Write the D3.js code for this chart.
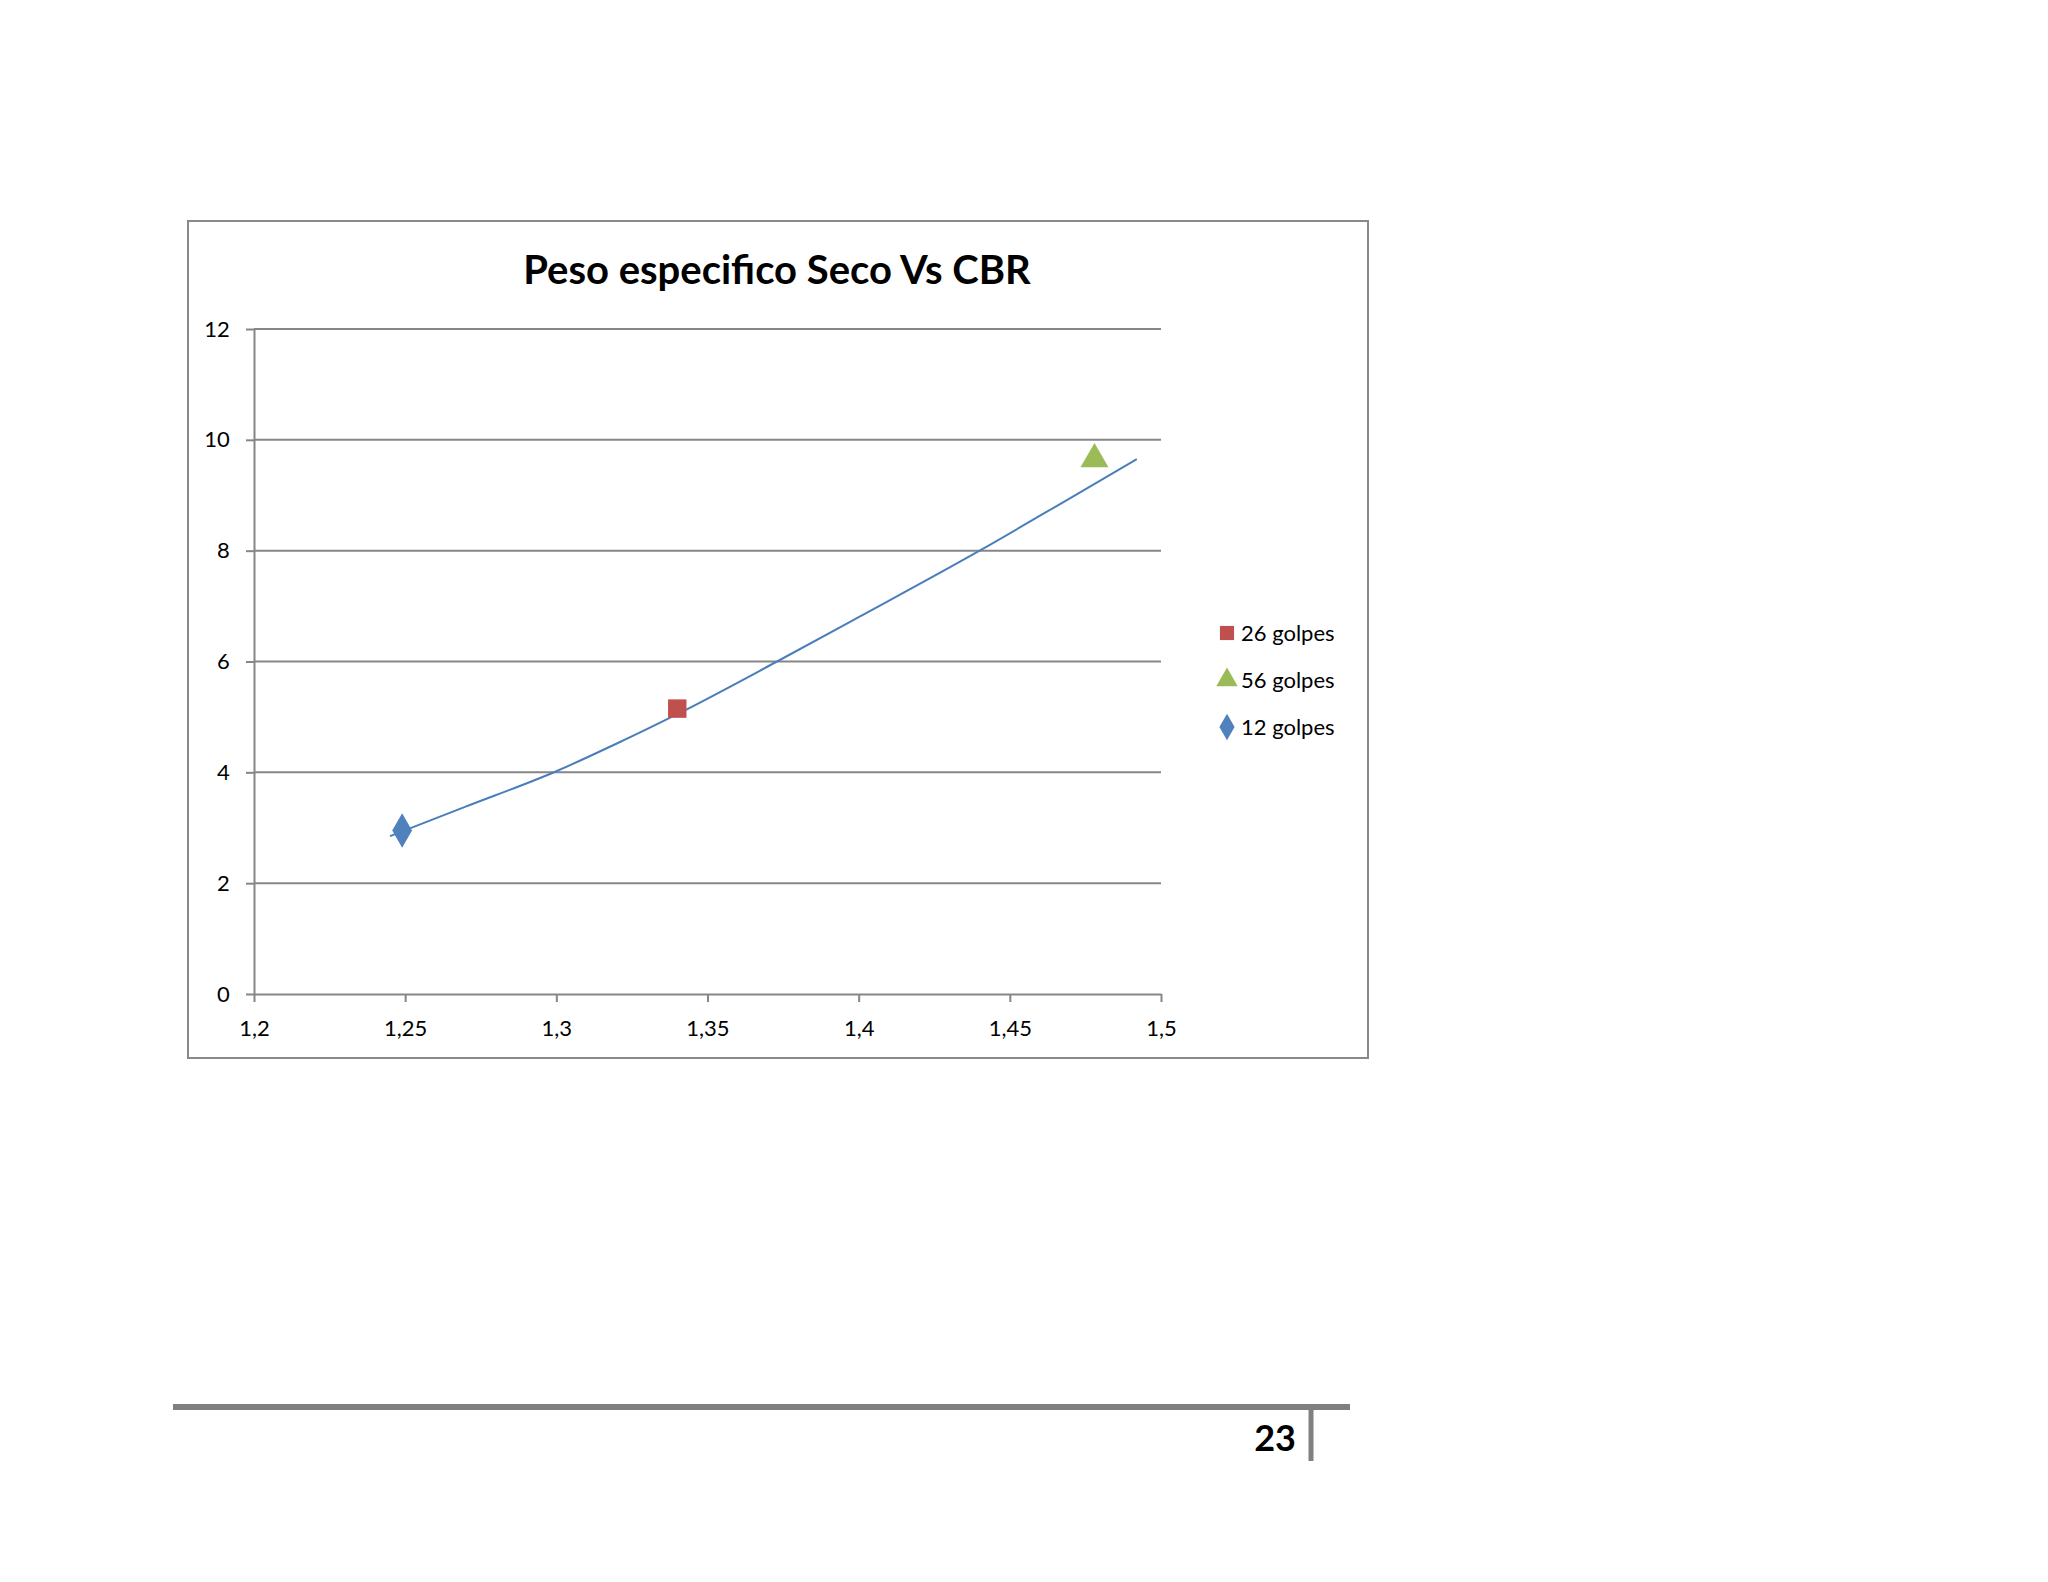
<!DOCTYPE html>
<html><head><meta charset="utf-8">
<script src="https://cdn.jsdelivr.net/npm/d3@7"></script>
<style>body{margin:0;background:#fff;} text{font-family:Lato,"Open Sans",sans-serif;}</style>
</head><body>
<svg id="chart" width="2048" height="1582"></svg>
<script>
// data
const seriesNames = ["26 golpes", "56 golpes", "12 golpes"];
const seriesColors = ["#c0504d", "#9bbb59", "#4f81bd"];
const seriesSymbols = [d3.symbolSquare, d3.symbolTriangle, d3.symbolDiamond];
const pointX = [1.34, 1.478, 1.249];
const pointY = [5.15, 9.65, 2.95];
const trendX = [1.245, 1.27, 1.3, 1.32, 1.34, 1.373, 1.4, 1.44, 1.47, 1.492];
const trendY = [2.85, 3.38, 4.02, 4.52, 5.05, 6.0, 6.8, 8.0, 8.95, 9.65];
const xTicks = [1.2, 1.25, 1.3, 1.35, 1.4, 1.45, 1.5];
const yTicks = [0, 2, 4, 6, 8, 10, 12];

const svg = d3.select("#chart");
const plotLeft = 254, plotRight = 1161, plotTop = 329, plotBottom = 994;
const x = d3.scaleLinear().domain([1.2, 1.5]).range([plotLeft, plotRight]);
const y = d3.scaleLinear().domain([0, 12]).range([plotBottom, plotTop]);
const fmt = d => String(d).replace(".", ",");

// chart frame
svg.append("rect").attr("x", 188).attr("y", 221).attr("width", 1180).attr("height", 837)
  .attr("fill", "#fff").attr("stroke", "#898989").attr("stroke-width", 2);

svg.append("text").attr("x", 777).attr("y", 284).attr("text-anchor", "middle")
  .attr("font-size", 40).attr("font-weight", "bold").text("Peso especifico Seco Vs CBR");

// gridlines
svg.append("g").selectAll("line").data(yTicks.filter(d => d > 0)).join("line")
  .attr("x1", plotLeft).attr("x2", plotRight).attr("y1", d => y(d)).attr("y2", d => y(d))
  .attr("stroke", "#868686").attr("stroke-width", 2);

const xAxis = svg.append("g").attr("transform", `translate(0,${plotBottom})`)
  .call(d3.axisBottom(x).tickValues(xTicks).tickFormat(fmt).tickSize(8).tickSizeOuter(0));
const yAxis = svg.append("g").attr("transform", `translate(${plotLeft},0)`)
  .call(d3.axisLeft(y).tickValues(yTicks).tickSize(8).tickSizeOuter(0));
[xAxis, yAxis].forEach(a => {
  a.selectAll("path,line").attr("stroke", "#868686").attr("stroke-width", 2);
  a.selectAll("text").attr("font-size", 22).attr("fill", "#000")
   .style("font-family", "Lato, sans-serif");
});
xAxis.selectAll("text").attr("dy", "1.4em");
yAxis.selectAll("text").attr("dx", "-0.6em");

// trend line
const line = d3.line().x(d => x(d[0])).y(d => y(d[1])).curve(d3.curveMonotoneX);
svg.append("path").datum(trendX.map((v, i) => [v, trendY[i]])).attr("d", line)
  .attr("fill", "none").attr("stroke", "#4a7ebb").attr("stroke-width", 2);

// points
svg.append("g").selectAll("path").data(seriesNames).join("path")
  .attr("transform", (d, i) => `translate(${x(pointX[i])},${y(pointY[i])})`)
  .attr("d", (d, i) => d3.symbol(seriesSymbols[i], 340)())
  .attr("fill", (d, i) => seriesColors[i]);

// legend
const lg = svg.append("g").selectAll("g").data(seriesNames).join("g")
  .attr("transform", (d, i) => `translate(1227,${633 + i * 47})`);
lg.append("path").attr("d", (d, i) => d3.symbol(seriesSymbols[i], 200)())
  .attr("fill", (d, i) => seriesColors[i]);
lg.append("text").attr("x", 14).attr("y", 8).attr("font-size", 22).text(d => d);

// page footer
svg.append("line").attr("x1", 173).attr("x2", 1350).attr("y1", 1407).attr("y2", 1407)
  .attr("stroke", "#808080").attr("stroke-width", 6);
svg.append("line").attr("x1", 1311).attr("x2", 1311).attr("y1", 1407).attr("y2", 1461)
  .attr("stroke", "#808080").attr("stroke-width", 5);
svg.append("text").attr("x", 1296).attr("y", 1451).attr("text-anchor", "end")
  .attr("font-size", 36).attr("font-weight", "bold").text("23");
</script>
</body></html>
